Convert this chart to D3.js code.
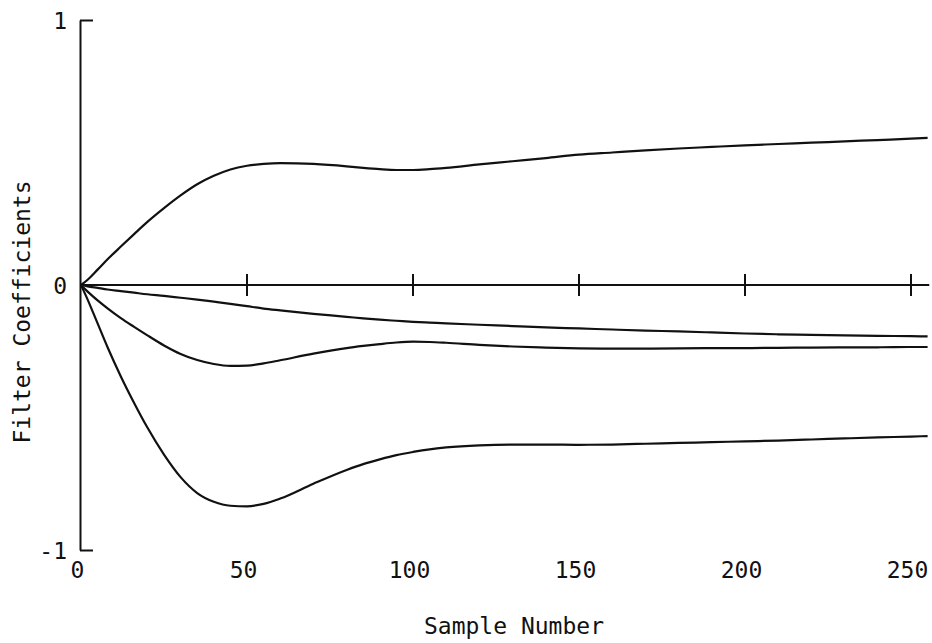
<!DOCTYPE html>
<html>
<head>
<meta charset="utf-8">
<script src="https://cdn.jsdelivr.net/npm/d3@7"></script>
<style>
  html, body { margin: 0; padding: 0; background: #fff; }
  svg { display: block; }
  text { font-family: "DejaVu Sans Mono", "Liberation Mono", monospace; fill: #111; }
</style>
</head>
<body>
<svg id="chart" width="932" height="643"></svg>
<script>
// Sample numbers at which each coefficient trajectory is tabulated
const sampleNumbers = [0, 2, 5, 8, 12, 16, 20, 25, 30, 35, 40, 45, 50, 55, 60, 70, 80, 85, 90, 95,
  100, 105, 110, 120, 130, 140, 150, 160, 170, 180, 190, 200, 210, 220, 230, 240, 250, 255];

// Adaptive filter coefficients versus sample number
const coefA = [0, 0.02, 0.058, 0.097, 0.145, 0.192, 0.238, 0.29, 0.338, 0.38, 0.412, 0.436, 0.45,
  0.457, 0.46, 0.457, 0.448, 0.442, 0.437, 0.434, 0.434, 0.437, 0.442, 0.455, 0.467, 0.479, 0.492,
  0.5, 0.508, 0.515, 0.521, 0.527, 0.532, 0.537, 0.542, 0.547, 0.552, 0.555];
const coefB = [0, -0.005, -0.011, -0.017, -0.023, -0.029, -0.035, -0.041, -0.048, -0.055, -0.063,
  -0.071, -0.08, -0.089, -0.096, -0.109, -0.12, -0.126, -0.131, -0.135, -0.139, -0.142, -0.145,
  -0.15, -0.155, -0.16, -0.164, -0.168, -0.172, -0.175, -0.179, -0.183, -0.186, -0.188, -0.19,
  -0.192, -0.193, -0.194];
const coefC = [0, -0.025, -0.058, -0.088, -0.125, -0.158, -0.19, -0.228, -0.26, -0.283, -0.298,
  -0.305, -0.304, -0.296, -0.284, -0.259, -0.238, -0.23, -0.223, -0.217, -0.214, -0.215, -0.218,
  -0.226, -0.232, -0.236, -0.239, -0.24, -0.24, -0.239, -0.238, -0.238, -0.237, -0.236, -0.235,
  -0.235, -0.234, -0.234];
const coefD = [0, -0.055, -0.145, -0.235, -0.345, -0.445, -0.538, -0.64, -0.725, -0.785, -0.818,
  -0.833, -0.835, -0.826, -0.806, -0.75, -0.698, -0.676, -0.658, -0.642, -0.63, -0.62, -0.613,
  -0.605, -0.602, -0.602, -0.603, -0.602, -0.599, -0.596, -0.593, -0.59, -0.587, -0.583, -0.579,
  -0.575, -0.572, -0.57];

const seriesList = [coefA, coefB, coefC, coefD];

// Axis ticks and labels
const xTickValues = [0, 50, 100, 150, 200, 250];
const xCrossTicks = [50, 100, 150, 200, 250];
const yTickValues = [-1, 0, 1];
const yEndTicks = [-1, 1];
const xTitle = "Sample Number";
const yTitle = "Filter Coefficients";

const svg = d3.select("#chart");
svg.append("rect").attr("width", 932).attr("height", 643).attr("fill", "#fff");

const x = d3.scaleLinear().domain([0, 250]).range([81, 911]);
const y = d3.scaleLinear().domain([-1, 1]).range([550, 20]);
const axisX = 80;
const fontSize = 23;
const ink = "#111";

// Vertical axis with inward end ticks at +1 and -1
const yRight = svg.append("g")
  .attr("transform", `translate(${axisX},0)`)
  .call(d3.axisRight(y).tickValues(yEndTicks).tickSize(13).tickSizeOuter(0).tickFormat(""));
yRight.select(".domain").attr("stroke", ink).attr("stroke-width", 2);
yRight.selectAll(".tick line").attr("stroke", ink).attr("stroke-width", 2);

// Y tick labels
const yLeft = svg.append("g")
  .attr("transform", `translate(${axisX},0)`)
  .call(d3.axisLeft(y).tickValues(yTickValues).tickSize(0).tickPadding(13)
    .tickFormat(d => String(d)));
yLeft.select(".domain").remove();
yLeft.selectAll("text")
  .attr("font-size", fontSize)
  .attr("font-family", "DejaVu Sans Mono, monospace")
  .attr("fill", ink)
  .attr("dy", "0.35em");

// Zero line with crossing ticks
const zeroY = y(0);
svg.append("line")
  .attr("x1", x(0)).attr("x2", x(255.5))
  .attr("y1", zeroY).attr("y2", zeroY)
  .attr("stroke", ink).attr("stroke-width", 2);
svg.append("g").selectAll("line").data(xCrossTicks).join("line")
  .attr("x1", d => x(d)).attr("x2", d => x(d))
  .attr("y1", zeroY - 11).attr("y2", zeroY + 11)
  .attr("stroke", ink).attr("stroke-width", 2);

// X tick labels below the plot
const xBottom = svg.append("g")
  .attr("transform", `translate(-4,${y(-1)})`)
  .call(d3.axisBottom(x).tickValues(xTickValues).tickSize(0).tickPadding(12)
    .tickFormat(d => String(d)));
xBottom.select(".domain").remove();
xBottom.selectAll("text")
  .attr("font-size", fontSize)
  .attr("font-family", "DejaVu Sans Mono, monospace")
  .attr("fill", ink);

// Coefficient trajectories
const line = d3.line()
  .x((d, i) => x(sampleNumbers[i]))
  .y(d => y(d))
  .curve(d3.curveMonotoneX);

svg.append("g").selectAll("path").data(seriesList).join("path")
  .attr("d", d => line(d))
  .attr("fill", "none")
  .attr("stroke", ink)
  .attr("stroke-width", 2.2)
  .attr("stroke-linejoin", "round");

// Axis titles
svg.append("text")
  .attr("x", 514).attr("y", 634)
  .attr("text-anchor", "middle")
  .attr("font-size", fontSize)
  .text(xTitle);

svg.append("text")
  .attr("transform", "translate(30,312) rotate(-90)")
  .attr("text-anchor", "middle")
  .attr("font-size", fontSize)
  .text(yTitle);
</script>
</body>
</html>
